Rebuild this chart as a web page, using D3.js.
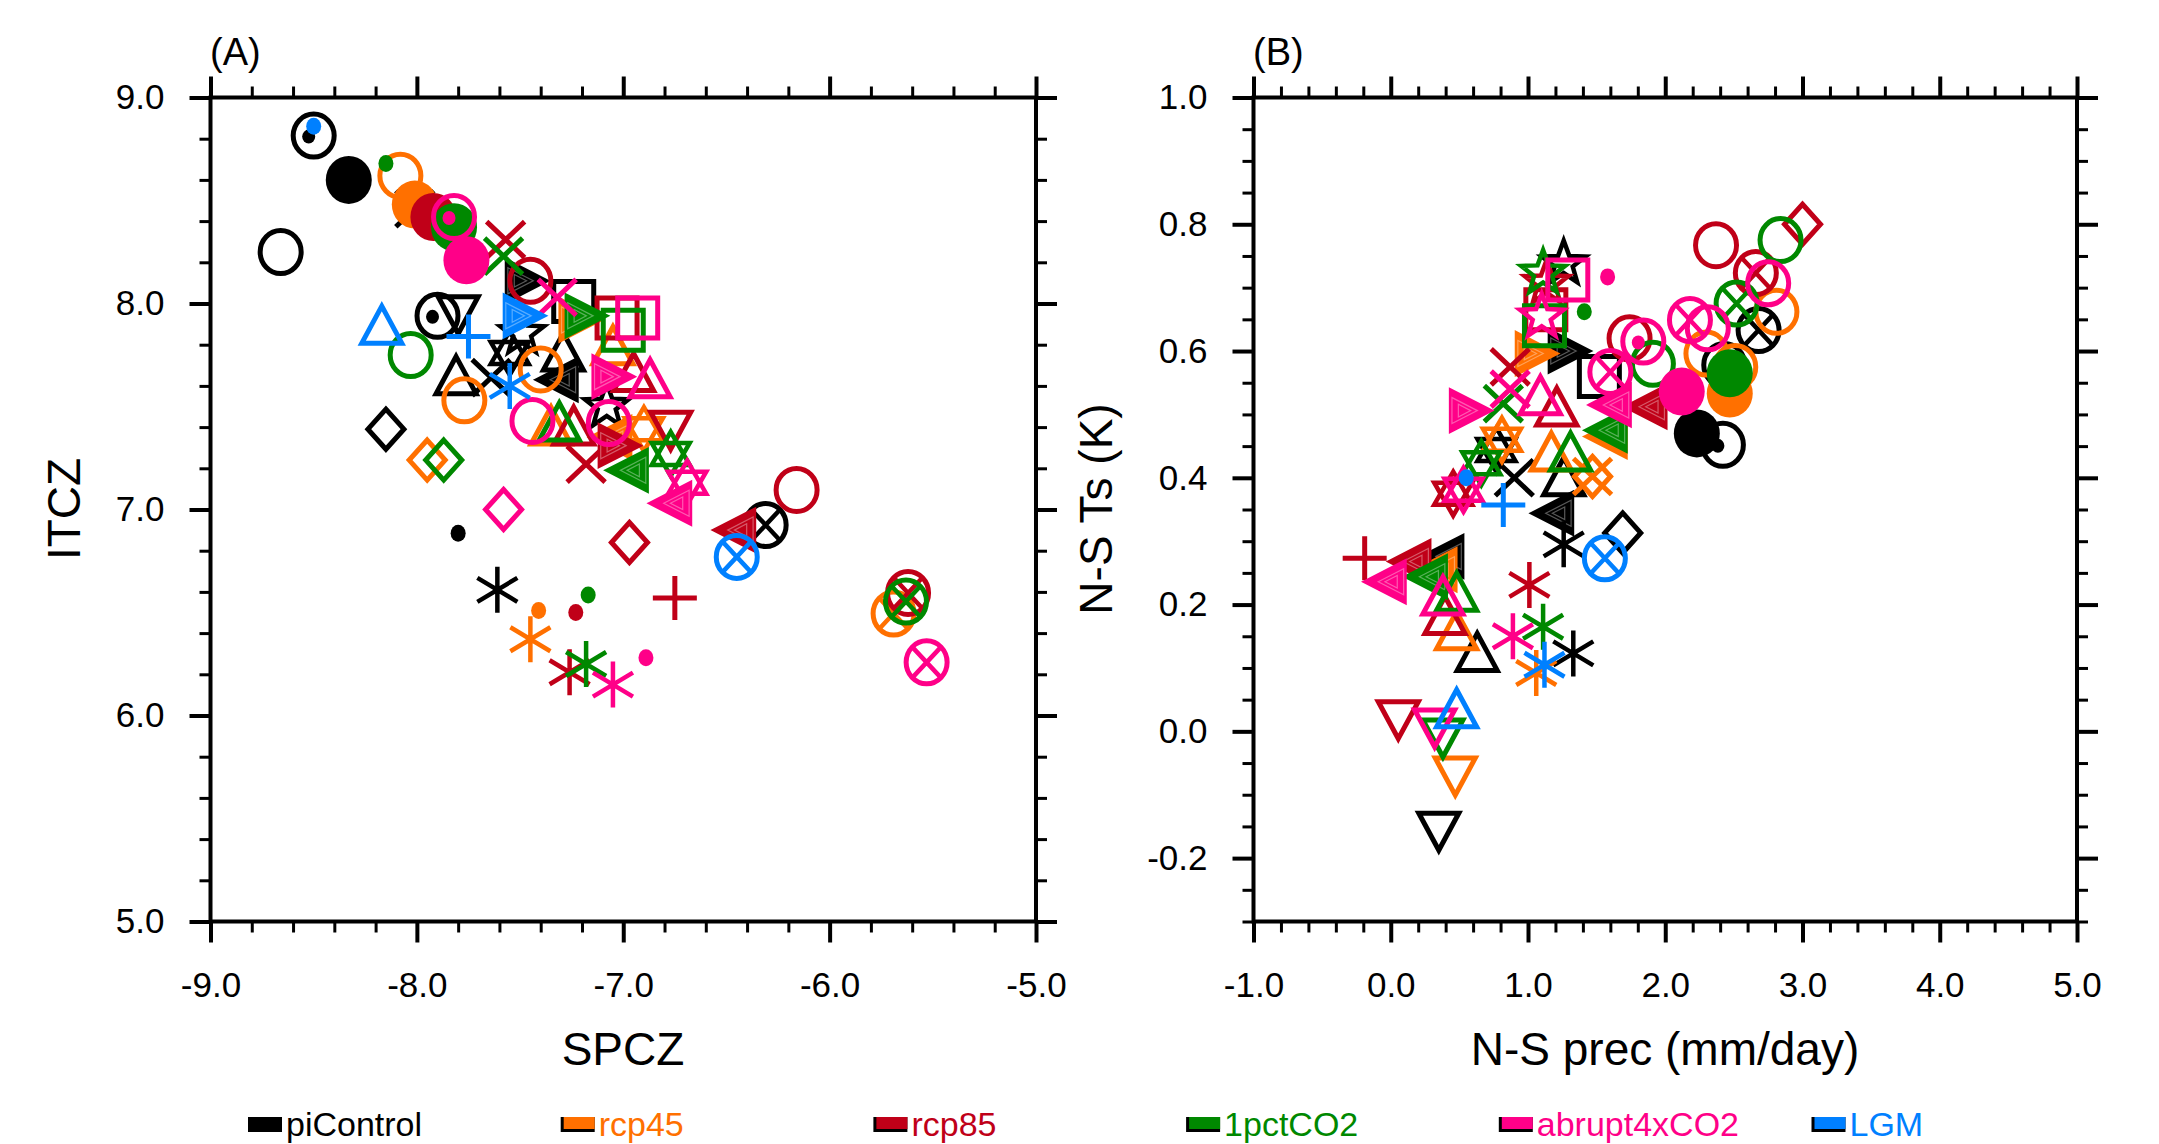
<!DOCTYPE html>
<html><head><meta charset="utf-8">
<script src="https://cdn.jsdelivr.net/npm/d3@7"></script>
<style>
body{margin:0;background:#fff}
svg{display:block}
text{font-family:"Liberation Sans",Arial,Helvetica,sans-serif}
</style>
</head><body>
<svg id="chart" width="2159" height="1144"></svg>
<script>
// ---------- categories ----------
const scenarios = ["piControl","rcp45","rcp85","1pctCO2","abrupt4xCO2","LGM"];
const scenarioColors = ["#000000","#FF7000","#C00018","#008800","#FF0088","#0080FF"];

// ---------- tick labels ----------
const ticksAx = [-9,-8,-7,-6,-5];
const ticksAy = [5,6,7,8,9];
const ticksBx = [-1,0,1,2,3,4,5];
const ticksBy = [-0.2,0,0.2,0.4,0.6,0.8,1.0];

// ---------- panel A (SPCZ vs ITCZ): [marker, SPCZ, ITCZ] ----------
const piControlA = [
  ["circDot",-8.50,8.815],["fcircle",-8.33,8.60],["circle",-8.66,8.25],["cross",-8.01,8.46],
  ["circDot",-7.90,7.94],["triDown",-7.80,7.95],["triUp",-7.81,7.645],["diamond",-8.15,7.39],
  ["asterisk",-7.61,6.61],["dot",-7.80,6.885],["star6",-7.55,7.76],["star5",-7.49,7.855],
  ["cross",-7.64,7.64],["square",-7.24,8.01],["triUp",-7.29,7.76],["triLeft",-7.32,7.63],
  ["triRight",-7.47,8.11],["star5",-7.08,7.50],["circX",-6.31,6.925]
];
const rcp45A = [
  ["circle",-8.08,8.62],["fcircle",-8.01,8.48],["circle",-7.77,7.53],["circle",-7.40,7.68],
  ["diamond",-7.95,7.24],["asterisk",-7.45,6.37],["dot",-7.41,6.51],["triUp",-7.35,7.40],
  ["triRight",-7.21,7.92],["triLeft",-7.06,7.35],["triUp",-7.05,7.79],["star6",-6.90,7.39],
  ["circX",-5.69,6.495]
];
const rcp85A = [
  ["fcircle",-7.92,8.42],["circle",-7.45,8.11],["square",-7.03,7.93],["triUp",-6.95,7.66],
  ["triDown",-6.77,7.39],["cross",-7.57,8.31],["asterisk",-7.26,6.21],["dot",-7.23,6.50],
  ["plus",-6.75,6.57],["diamond",-6.97,6.84],["circX",-5.62,6.595],["circle",-6.16,7.095],
  ["triLeft",-6.46,6.90],["cross",-7.18,7.22],["triRight",-7.02,7.31],["triUp",-7.24,7.40]
];
const pctCO2A = [
  ["dot",-8.15,8.68],["fcircle",-7.82,8.37],["cross",-7.58,8.23],["circle",-8.03,7.75],
  ["diamond",-7.87,7.24],["triRight",-7.18,7.94],["triLeft",-6.98,7.19],["star6",-6.77,7.27],
  ["square",-7.00,7.87],["triUp",-7.31,7.42],["asterisk",-7.18,6.25],["dot",-7.17,6.585],
  ["circX",-5.63,6.553]
];
const abruptA = [
  ["circDot",-7.82,8.42],["fcircle",-7.76,8.21],["square",-6.93,7.93],["triUp",-6.87,7.63],
  ["triRight",-7.05,7.645],["star6",-6.69,7.13],["triLeft",-6.77,7.03],["diamond",-7.58,7.00],
  ["circle",-7.44,7.43],["asterisk",-7.05,6.15],["dot",-6.89,6.28],["circX",-5.53,6.258],
  ["cross",-7.32,8.03],["circle",-7.07,7.42]
];
const lgmA = [
  ["dot",-8.50,8.86],["triUp",-8.17,7.89],["plus",-7.75,7.84],["triRight",-7.48,7.94],
  ["asterisk",-7.55,7.60],["circX",-6.45,6.77]
];

// ---------- panel B (N-S prec vs N-S Ts): [marker, prec, Ts] ----------
const piControlB = [
  ["fcircle",2.23,0.47],["circDot",2.42,0.452],["circDot",2.43,0.578],["circX",2.68,0.633],
  ["triRight",1.30,0.60],["square",1.52,0.56],["star5",1.26,0.738],["triLeft",1.18,0.344],
  ["asterisk",1.33,0.123],["asterisk",1.26,0.295],["diamond",1.69,0.313],["triDown",0.35,-0.156],
  ["triUp",0.63,0.123],["triLeft",0.38,0.276],["cross",0.90,0.40],["star6",0.77,0.444],
  ["triUp",1.26,0.40]
];
const rcp45B = [
  ["fcircle",2.47,0.533],["circle",2.81,0.662],["circle",2.30,0.596],["circle",2.51,0.575],
  ["triRight",1.06,0.596],["triUp",1.17,0.439],["triLeft",1.57,0.465],["diamond",1.47,0.402],
  ["cross",1.47,0.402],["star6",0.81,0.46],["triDown",0.47,-0.069],["triUp",0.48,0.157],
  ["asterisk",1.06,0.092],["triLeft",0.33,0.255]
];
const rcp85B = [
  ["diamond",3.00,0.80],["circle",2.37,0.767],["circX",2.66,0.723],["circle",1.74,0.62],
  ["triLeft",1.86,0.512],["triUp",1.21,0.51],["plus",-0.19,0.273],["triLeft",0.14,0.268],
  ["triDown",0.055,0.02],["asterisk",1.01,0.231],["triUp",0.395,0.181],["star6",0.455,0.375],
  ["square",1.13,0.665],["star5",1.135,0.707],["cross",0.87,0.575]
];
const pctCO2B = [
  ["fcircle",2.47,0.565],["circle",2.84,0.775],["circX",2.52,0.675],["circle",1.91,0.58],
  ["star5",1.11,0.723],["triLeft",1.57,0.475],["triUp",1.31,0.439],["star6",0.66,0.423],
  ["cross",0.82,0.517],["triLeft",0.26,0.244],["triUp",0.48,0.218],["triDown",0.38,-0.009],
  ["asterisk",1.11,0.165],["dot",1.41,0.662],["square",1.12,0.64]
];
const abruptB = [
  ["fcircle",2.12,0.536],["circDot",1.84,0.615],["circX",1.60,0.567],["circle",2.75,0.707],
  ["circle",2.31,0.636],["circX",2.18,0.649],["square",1.29,0.712],["star5",1.10,0.654],
  ["triUp",1.09,0.528],["triLeft",1.60,0.515],["triRight",0.58,0.506],["cross",0.87,0.54],
  ["star6",0.53,0.381],["triLeft",-0.04,0.236],["triUp",0.38,0.212],["triDown",0.32,0.007],
  ["asterisk",0.89,0.15],["dot",1.58,0.717]
];
const lgmB = [
  ["dot",0.55,0.40],["plus",0.82,0.357],["triUp",0.48,0.034],["asterisk",1.12,0.105],
  ["circX",1.56,0.273]
];

const panelA = [piControlA, rcp45A, rcp85A, pctCO2A, abruptA, lgmA];
const panelB = [piControlB, rcp45B, rcp85B, pctCO2B, abruptB, lgmB];

// ---------- drawing ----------
const svg = d3.select("#chart");
const FONT = '"Liberation Sans",Arial,Helvetica,sans-serif';
const fmt = v => { v = Math.round(v*100)/100; return (v < 0 ? "-" : "") + Math.abs(v).toFixed(1); };

const xA = d3.scaleLinear().domain([-9,-5]).range([210.5,1036]);
const yA = d3.scaleLinear().domain([5,9]).range([921.5,97.5]);
const xB = d3.scaleLinear().domain([-1,5]).range([1253.5,2077]);
const yB = d3.scaleLinear().domain([-0.3,1.0]).range([921.5,97.5]);

function steps(a, b, s) { const n = Math.round((b - a) / s); return d3.range(n + 1).map(i => +(a + i * s).toFixed(4)); }
function minorsOf(all, majors) { return all.filter(v => !majors.some(m => Math.abs(m - v) < 1e-6)); }

function styleAxis(sel, w) {
  sel.select(".domain").remove();
  sel.selectAll("line").attr("stroke", "#000").attr("stroke-width", w);
  sel.attr("font-family", FONT).attr("font-size", 35);
  sel.selectAll("text").attr("fill", "#000");
}

function drawAxes(x, y, xMaj, xMinAll, yMaj, yMinAll) {
  const [xl, xr] = x.range(), [yb, yt] = y.range();
  const xMin = minorsOf(xMinAll, xMaj), yMin = minorsOf(yMinAll, yMaj);
  const g = svg.append("g");
  // minor ticks
  g.append("g").attr("transform", `translate(0,${yb})`).call(d3.axisBottom(x).tickValues(xMin).tickSize(11).tickFormat("")).call(s => styleAxis(s, 3));
  g.append("g").attr("transform", `translate(0,${yt})`).call(d3.axisTop(x).tickValues(xMin).tickSize(11).tickFormat("")).call(s => styleAxis(s, 3));
  g.append("g").attr("transform", `translate(${xl},0)`).call(d3.axisLeft(y).tickValues(yMin).tickSize(11).tickFormat("")).call(s => styleAxis(s, 3));
  g.append("g").attr("transform", `translate(${xr},0)`).call(d3.axisRight(y).tickValues(yMin).tickSize(11).tickFormat("")).call(s => styleAxis(s, 3));
  // major ticks
  g.append("g").attr("transform", `translate(0,${yb})`).call(d3.axisBottom(x).tickValues(xMaj).tickSize(21).tickPadding(30).tickFormat(fmt)).call(s => styleAxis(s, 4));
  g.append("g").attr("transform", `translate(0,${yt})`).call(d3.axisTop(x).tickValues(xMaj).tickSize(21).tickFormat("")).call(s => styleAxis(s, 4));
  g.append("g").attr("transform", `translate(${xl},0)`).call(d3.axisLeft(y).tickValues(yMaj).tickSize(21).tickPadding(25).tickFormat(fmt)).call(s => styleAxis(s, 4));
  g.append("g").attr("transform", `translate(${xr},0)`).call(d3.axisRight(y).tickValues(yMaj).tickSize(21).tickFormat("")).call(s => styleAxis(s, 4));
  // frame
  g.append("rect").attr("x", xl).attr("y", yt).attr("width", xr - xl).attr("height", yb - yt)
    .attr("fill", "none").attr("stroke", "#000").attr("stroke-width", 4);
}

drawAxes(xA, yA, ticksAx, steps(-9, -5, 0.2), ticksAy, steps(5, 9, 0.2));
drawAxes(xB, yB, ticksBx, steps(-1, 5, 0.2), ticksBy, steps(-0.3, 1.0, 0.05));

// marker shapes
function starPath(n, ro, ri) {
  const pts = [];
  for (let i = 0; i < 2 * n; i++) {
    const r = i % 2 === 0 ? ro : ri;
    const a = -Math.PI / 2 + i * Math.PI / n;
    pts.push([r * Math.cos(a), r * Math.sin(a)]);
  }
  return "M" + pts.map(p => p[0].toFixed(2) + "," + p[1].toFixed(2)).join("L") + "Z";
}
function triPath(pts) { return "M" + pts.map(p => p.join(",")).join("L") + "Z"; }

function drawMarker(g, type, c) {
  const SW = 5;
  const line = (d, w) => g.append("path").attr("d", d).attr("fill", "none").attr("stroke", c).attr("stroke-width", w || SW).attr("stroke-linejoin", "miter").attr("stroke-linecap", "butt");
  switch (type) {
    case "dot": g.append("ellipse").attr("rx", 7.5).attr("ry", 8.5).attr("fill", c); break;
    case "fcircle": g.append("ellipse").attr("rx", 23).attr("ry", 24).attr("fill", c); break;
    case "circle": g.append("ellipse").attr("rx", 20.5).attr("ry", 21.5).attr("fill", "none").attr("stroke", c).attr("stroke-width", SW); break;
    case "circDot":
      g.append("ellipse").attr("rx", 20.5).attr("ry", 21.5).attr("fill", "none").attr("stroke", c).attr("stroke-width", SW);
      g.append("ellipse").attr("cx", -5).attr("cy", 1).attr("rx", 6.5).attr("ry", 7).attr("fill", c); break;
    case "circX":
      g.append("ellipse").attr("rx", 20.5).attr("ry", 21.5).attr("fill", "none").attr("stroke", c).attr("stroke-width", SW);
      line("M-14,-15L14,15M-14,15L14,-15", 4.5); break;
    case "plus": line("M-22,0H22M0,-22V22"); break;
    case "cross": line("M-19,-18L19,18M-19,18L19,-18"); break;
    case "asterisk": line("M0,-23V23M-20,-12L20,12M-20,12L20,-12", 4.5); break;
    case "square": line("M-20,-20H20V20H-20Z"); break;
    case "diamond": line("M0,-20L18,0L0,20L-18,0Z"); break;
    case "triUp": line(triPath([[0,-20],[20,17],[-20,17]])); break;
    case "triDown": line(triPath([[0,20],[20,-17],[-20,-17]])); break;
    case "triLeft":
    case "triRight": {
      const s = type === "triLeft" ? 1 : -1;
      g.append("path").attr("d", triPath([[-21*s,0],[20*s,-21],[20*s,21]])).attr("fill", c).attr("stroke", c).attr("stroke-width", 3).attr("stroke-linejoin", "miter");
      [0.62, 0.3].forEach(k => g.append("path").attr("d", triPath([[(-21*k+6)*s,0],[(20*k+6)*s,-21*k],[(20*k+6)*s,21*k]]))
        .attr("fill", "none").attr("stroke", "rgba(255,255,255,0.35)").attr("stroke-width", 1.2));
      break;
    }
    case "star5": line(starPath(5, 23, 9.5), 4.5); break;
    case "star6":
      line(triPath([[0,-22],[19,11],[-19,11]]), 4.5);
      line(triPath([[0,22],[19,-11],[-19,-11]]), 4.5); break;
  }
}

function drawPanel(groups, x, y) {
  const g = svg.append("g");
  groups.forEach((pts, si) => {
    const c = scenarioColors[si];
    g.append("g").selectAll("g").data(pts).join("g")
      .attr("transform", d => `translate(${x(d[1])},${y(d[2])})`)
      .each(function(d) { drawMarker(d3.select(this), d[0], c); });
  });
}
drawPanel(panelA, xA, yA);
drawPanel(panelB, xB, yB);

// titles
const T = (x, y, s, size, extra) => svg.append("text").attr("x", x).attr("y", y).attr("font-size", size).attr("font-family", FONT).attr("fill", "#000").text(s);
T(210, 65, "(A)", 38);
T(1253, 65, "(B)", 38);
T(623, 1065, "SPCZ", 46).attr("text-anchor", "middle");
T(1665, 1065, "N-S prec (mm/day)", 46).attr("text-anchor", "middle");
svg.append("text").attr("transform", "translate(80,509) rotate(-90)").attr("text-anchor", "middle")
  .attr("font-size", 46).attr("font-family", FONT).text("ITCZ");
svg.append("text").attr("transform", "translate(1112,509) rotate(-90)").attr("text-anchor", "middle")
  .attr("font-size", 46).attr("font-family", FONT).text("N-S Ts (K)");

// legend
const leg = svg.append("g").selectAll("g").data(scenarios).join("g")
  .attr("transform", (d, i) => `translate(${248 + i * 312.7},0)`);
leg.append("rect").attr("x", 0).attr("y", 1117).attr("width", 34).attr("height", 15).attr("fill", "#000");
leg.append("rect").attr("x", 3).attr("y", 1117).attr("width", 31).attr("height", 12).attr("fill", (d, i) => scenarioColors[i]);
leg.append("text").attr("x", 38).attr("y", 1136).attr("font-size", 34).attr("font-family", FONT)
  .attr("fill", (d, i) => scenarioColors[i]).text(d => d);
</script>
</body></html>
